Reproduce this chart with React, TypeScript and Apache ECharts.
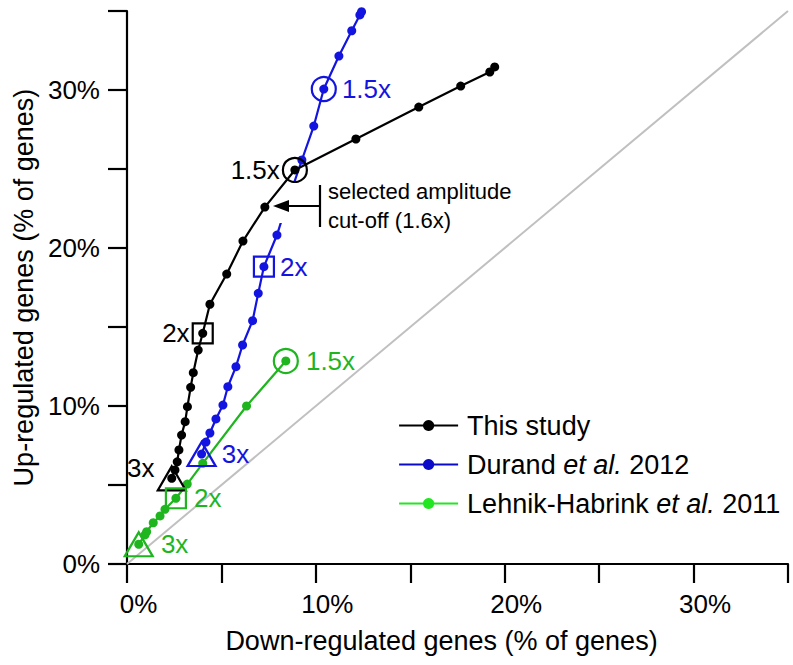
import React, { useEffect, useRef } from "react";
import * as echarts from "echarts";

const FONT = '"Liberation Sans", Arial, Helvetica, sans-serif';

const seriesNames = ["This study", "Durand et al. 2012", "Lehnik-Habrink et al. 2011"];

// [down-regulated %, up-regulated %]
const thisStudy: [number, number][] = [
  [2.37, 5.42], [2.54, 5.95], [2.66, 6.47], [2.75, 7.22], [2.89, 8.16],
  [3.08, 9.01], [3.2, 9.96], [3.37, 11.18], [3.51, 12.11], [3.77, 13.54],
  [4.01, 14.6], [4.39, 16.44], [5.28, 18.35], [6.14, 20.44], [7.3, 22.59],
  [8.89, 24.94], [12.12, 26.9], [15.45, 28.92], [17.67, 30.25], [19.21, 31.14],
  [19.47, 31.46],
];
const durand: [number, number][] = [
  [3.95, 6.96], [4.18, 7.72], [4.39, 8.29], [4.71, 9.18], [5.08, 10.06],
  [5.34, 11.22], [5.77, 12.49], [6.12, 13.86], [6.65, 15.4], [6.95, 17.13],
  [7.25, 18.82], [7.94, 20.82], [8.36, 22.41], [9.26, 25.57], [9.89, 27.72],
  [10.42, 30.06], [11.22, 32.15], [11.9, 33.75], [12.33, 34.75], [12.42, 34.96],
];
const lehnik: [number, number][] = [
  [0.62, 1.25], [0.95, 1.84], [1.04, 2.04], [1.39, 2.61], [1.75, 3.04],
  [2.01, 3.46], [2.59, 4.16], [3.19, 5.06], [4.01, 6.37], [6.33, 10.0],
  [8.41, 12.85],
];
const diagonal: [number, number][] = [[0, 0], [35, 35]];

const foldLabels = ["3x", "2x", "1.5x"];
const thisStudyMarks = [0, 10, 15];
const durandMarks = [0, 10, 15];
const lehnikMarks = [0, 6, 10];

const cutoffText = ["selected amplitude", "cut-off (1.6x)"];

const axisMin = 0;
const axisMax = 35;
const axisStep = 5;
const labelStep = 10;

const COLORS = ["#000000", "#1414e0", "#1fb51f"];
const LEGEND_COLORS = ["#000000", "#0a0ac8", "#22e622"];

const markerSymbols = ["triangle", "rect", "circle"];
const markerSizes: any[] = [[28, 24], 20, 24];

function markSeries(
  data: [number, number][],
  marks: number[],
  color: string,
  side: "left" | "right",
  distance: number,
  offsets: [number, number][]
) {
  return {
    type: "scatter",
    z: 5,
    silent: true,
    clip: false,
    data: marks.map((idx, k) => ({
      value: data[idx],
      symbol: markerSymbols[k],
      symbolSize: markerSizes[k],
      label: {
        show: true,
        formatter: foldLabels[k],
        position: side,
        distance,
        offset: offsets[k],
        color,
        fontSize: 26,
        fontFamily: FONT,
      },
    })),
    itemStyle: { color: "rgba(0,0,0,0)", borderColor: color, borderWidth: 2.2, opacity: 1 },
  };
}

function lineSeries(name: string, data: [number, number][], color: string) {
  return {
    type: "line",
    name,
    data,
    z: 3,
    symbol: "circle",
    symbolSize: 9,
    showSymbol: true,
    lineStyle: { color, width: 2.2 },
    itemStyle: { color },
    clip: false,
  };
}

export default function App() {
  const ref = useRef<HTMLDivElement>(null);
  useEffect(() => {
    document.body.style.margin = "0";
    if (!ref.current) return;
    const chart = echarts.init(ref.current, undefined, { renderer: "svg" });
    const labelFmt = (v: number) => (v % labelStep === 0 ? v + "%" : "");
    const axisCommon = {
      type: "value",
      min: axisMin,
      max: axisMax,
      interval: axisStep,
      splitLine: { show: false },
      axisLine: { show: true, lineStyle: { color: "#000", width: 2.2 } },
      axisTick: { show: true, length: 19, lineStyle: { color: "#000", width: 2.2 } },
      nameLocation: "middle",
    };
    chart.setOption({
      animation: false,
      backgroundColor: "#fff",
      grid: { left: 127, right: 5, top: 11, bottom: 101, containLabel: false },
      xAxis: {
        ...axisCommon,
        name: "Down-regulated genes (% of genes)",
        nameGap: 63,
        nameTextStyle: { fontSize: 27, color: "#000", fontFamily: FONT, padding: [0, 32, 0, 0] },
        axisLabel: {
          margin: 27,
          fontSize: 26,
          color: "#000",
          fontFamily: FONT,
          formatter: labelFmt,
          padding: [0, 0, 0, 23],
        },
      },
      yAxis: {
        ...axisCommon,
        name: "Up-regulated genes (% of genes)",
        nameGap: 80,
        nameTextStyle: { fontSize: 27, color: "#000", fontFamily: FONT },
        axisLabel: { margin: 27, fontSize: 26, color: "#000", fontFamily: FONT, formatter: labelFmt },
      },
      legend: {
        orient: "vertical",
        left: 393,
        top: 407,
        itemWidth: 59,
        itemHeight: 14,
        itemGap: 12,
        data: seriesNames.map((n, i) => ({
          name: n,
          itemStyle: { color: LEGEND_COLORS[i] },
          lineStyle: { color: LEGEND_COLORS[i], width: 2.2 },
        })),
        formatter: (n: string) => n.replace("et al.", "{i|et al.}"),
        textStyle: {
          fontSize: 27,
          fontFamily: FONT,
          color: "#000",
          padding: [0, 0, 0, 4],
          rich: { i: { fontStyle: "italic", fontSize: 27, fontFamily: FONT, color: "#000" } },
        },
      },
      series: [
        {
          type: "line",
          data: diagonal,
          silent: true,
          symbol: "none",
          z: 1,
          lineStyle: { color: "#c0c0c0", width: 2 },
        },
        lineSeries(seriesNames[1], durand, COLORS[1]),
        lineSeries(seriesNames[2], lehnik, COLORS[2]),
        lineSeries(seriesNames[0], thisStudy, COLORS[0]),
        markSeries(thisStudy, thisStudyMarks, COLORS[0], "left", 2, [[0, -10], [0, 0], [0, 0]]),
        markSeries(durand, durandMarks, COLORS[1], "right", 5, [[0, 0], [0, 0], [0, 0]]),
        markSeries(lehnik, lehnikMarks, COLORS[2], "right", 7, [[0, 0], [0, 0], [0, 0]]),
      ],
      graphic: [
        {
          type: "polygon",
          z: 100,
          silent: true,
          shape: { points: [[279, 223], [279, 200], [289, 183], [318, 183], [318, 223]] },
          style: { fill: "#fff" },
        },
        {
          type: "line",
          z: 101,
          shape: { x1: 286, y1: 206, x2: 320, y2: 206 },
          style: { stroke: "#000", lineWidth: 2.2 },
        },
        {
          type: "polygon",
          z: 101,
          shape: { points: [[273, 206], [289, 200], [289, 212]] },
          style: { fill: "#000" },
        },
        {
          type: "line",
          z: 101,
          shape: { x1: 320, y1: 185, x2: 320, y2: 227 },
          style: { stroke: "#000", lineWidth: 2.2 },
        },
        {
          type: "text",
          z: 101,
          x: 328,
          y: 177,
          style: {
            text: cutoffText.join("\n"),
            fontSize: 22,
            lineHeight: 29,
            fontFamily: FONT,
            fill: "#000",
            verticalAlign: "top",
          },
        },
      ],
    });
    return () => chart.dispose();
  }, []);
  return <div ref={ref} style={{ width: 793, height: 665 }} />;
}
